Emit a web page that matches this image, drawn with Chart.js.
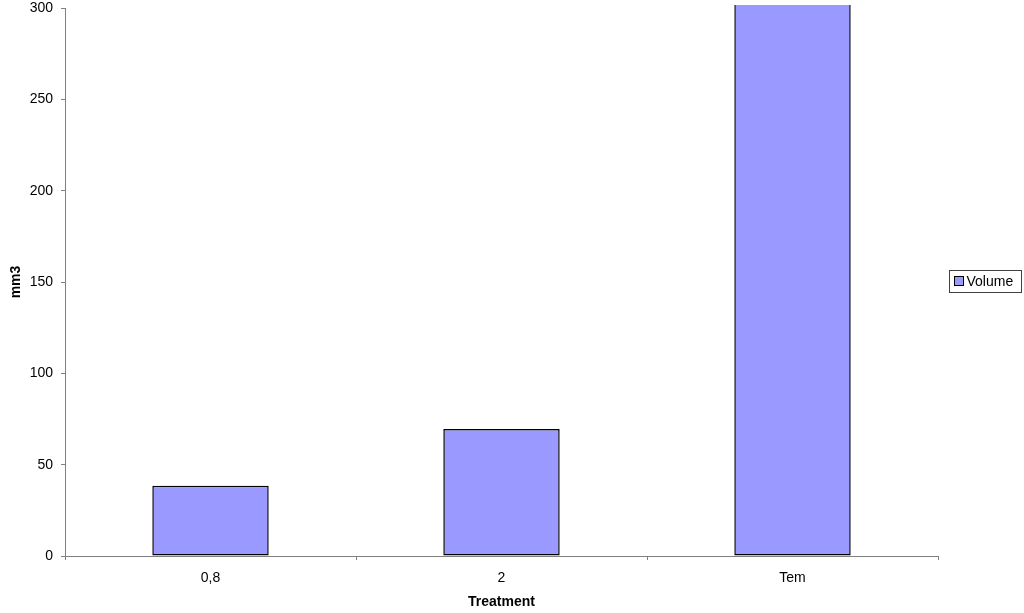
<!DOCTYPE html>
<html>
<head>
<meta charset="utf-8">
<script src="https://cdn.jsdelivr.net/npm/chart.js@4"></script>
<style>
html,body{margin:0;padding:0;background:#fff;}
#wrap{width:1024px;height:613px;position:relative;}
</style>
</head>
<body>
<div id="wrap"><canvas id="c" width="1024" height="613"></canvas></div>
<script>
const categories = ["0,8", "2", "Tem"];
const volume = [38.5, 69.5, 305];
const seriesLabel = "Volume";
const yTicks = [0, 50, 100, 150, 200, 250, 300];
const xTitle = "Treatment";
const yTitle = "mm3";

const FONT = "'Liberation Sans', Arial, sans-serif";

const boxLegend = {
  id: 'boxLegend',
  afterDraw(chart) {
    const ctx = chart.ctx;
    const ds = chart.data.datasets[0];
    ctx.save();
    ctx.font = "14px " + FONT;
    const x = 949.5, y = 270.5, h = 22, w = 72;
    ctx.strokeStyle = '#404040';
    ctx.lineWidth = 1;
    ctx.strokeRect(x, y, w, h);
    ctx.fillStyle = ds.backgroundColor;
    ctx.fillRect(x + 5, y + 6, 9, 9);
    ctx.strokeStyle = '#000';
    ctx.strokeRect(x + 5, y + 6, 9, 9);
    ctx.fillStyle = '#000';
    ctx.textBaseline = 'middle';
    ctx.fillText(ds.label, x + 17, y + h / 2 + 0.5);
    ctx.restore();
  }
};

new Chart(document.getElementById('c'), {
  type: 'bar',
  data: {
    labels: categories,
    datasets: [{
      label: seriesLabel,
      data: volume,
      backgroundColor: '#9999FF',
      borderColor: '#000000',
      borderWidth: 1.5,
      borderSkipped: false,
      barPercentage: 0.4,
      categoryPercentage: 1.0,
      clip: {left: 2, right: 2, top: 3, bottom: 2}
    }]
  },
  options: {
    responsive: false,
    animation: false,
    layout: {padding: {top: 0, right: 86, left: 0, bottom: 0}},
    plugins: {legend: {display: false}, tooltip: {enabled: false}},
    scales: {
      x: {
        grid: {display: true, drawOnChartArea: false, drawTicks: true, tickLength: 4, color: '#808080', offset: true},
        border: {color: '#808080', width: 1},
        ticks: {color: '#000', font: {family: FONT, size: 14}, padding: 10},
        title: {display: true, text: xTitle, color: '#000', font: {family: FONT, size: 14, weight: 'bold'}, padding: {top: 4, bottom: 2}},
        afterFit(s) { s.height = 57; }
      },
      y: {
        min: 0, max: 300,
        afterBuildTicks(s) { s.ticks = yTicks.map(v => ({value: v})); },
        grid: {display: true, drawOnChartArea: false, drawTicks: true, tickLength: 4, color: '#808080'},
        border: {color: '#808080', width: 1},
        ticks: {color: '#000', font: {family: FONT, size: 14}, padding: 8},
        title: {display: true, text: yTitle, color: '#000', font: {family: FONT, size: 14, weight: 'bold'}, padding: {top: 8, bottom: 0}},
        afterFit(s) { s.width = 65; s.paddingTop = 8; s.paddingBottom = 0; }
      }
    }
  },
  plugins: [boxLegend]
});
</script>
</body>
</html>
